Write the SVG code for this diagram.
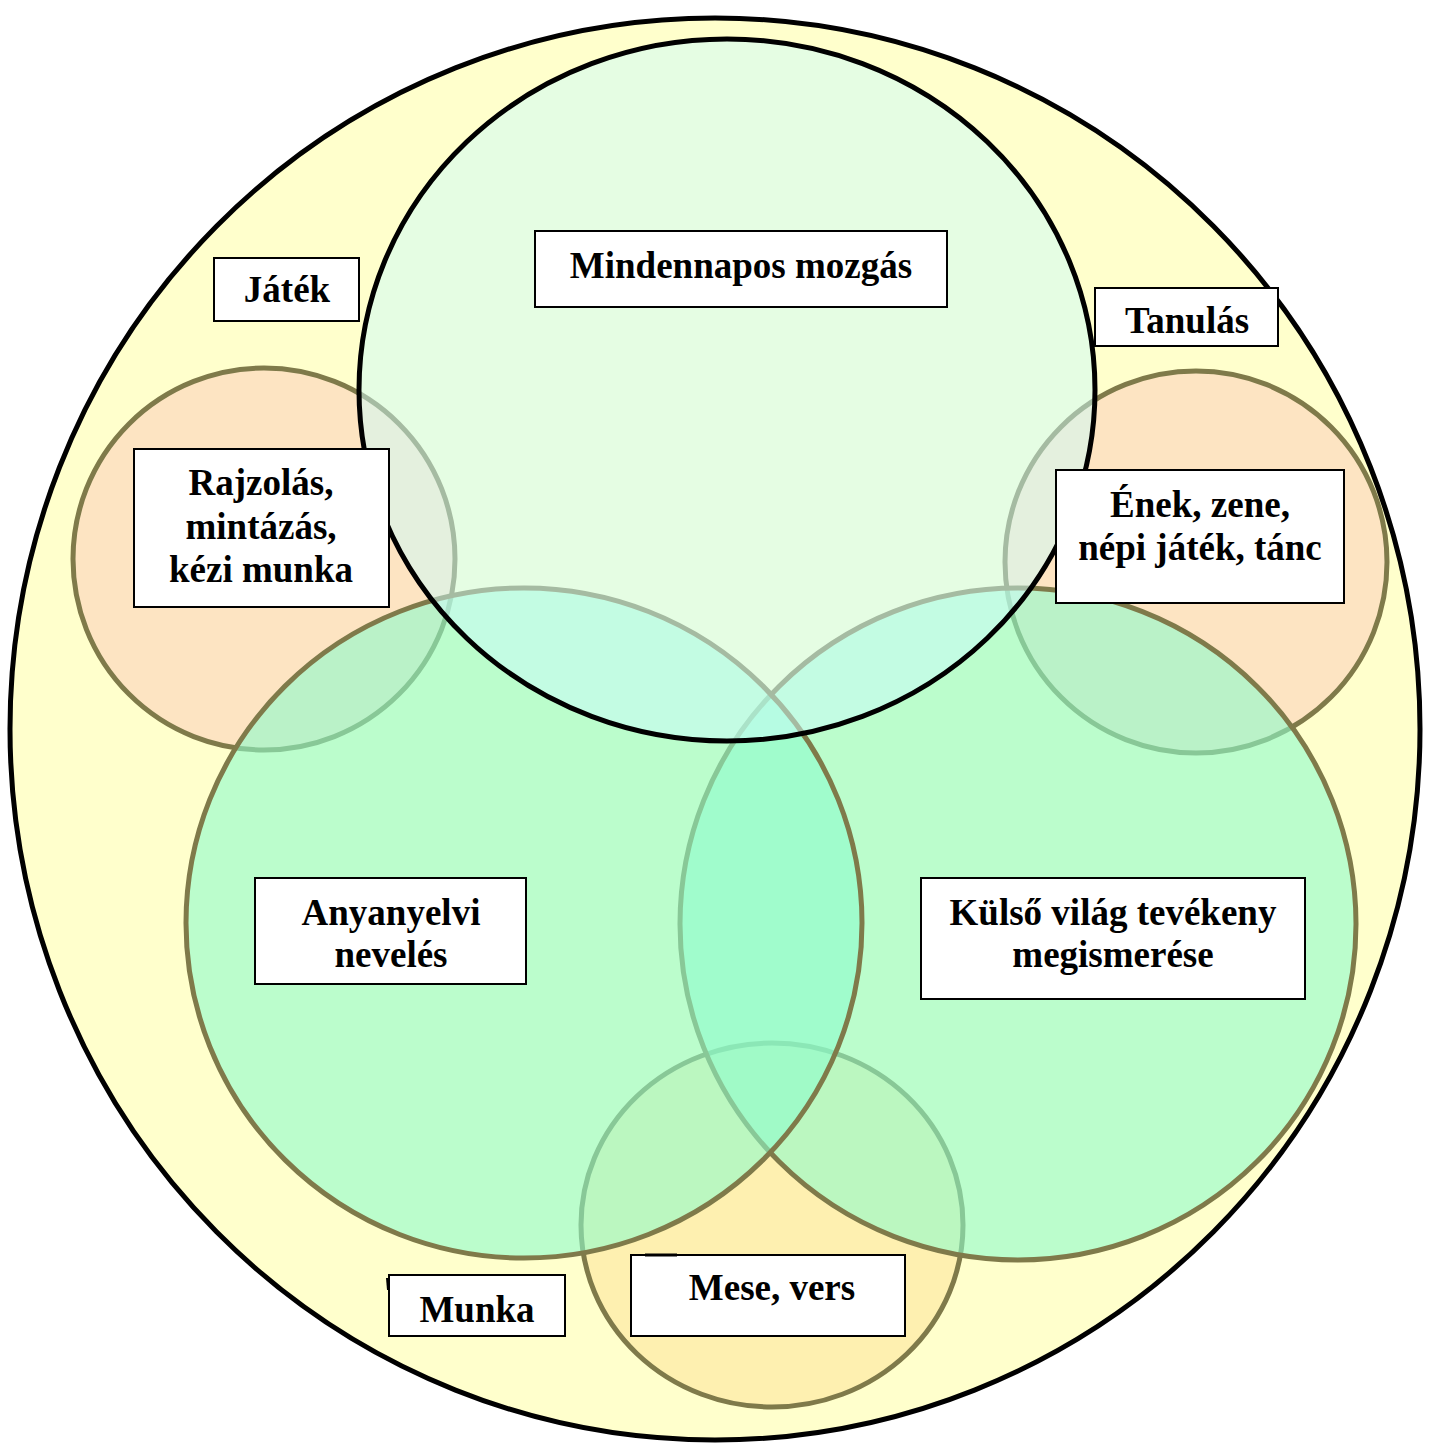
<svg xmlns="http://www.w3.org/2000/svg" width="1431" height="1443" viewBox="0 0 1431 1443">
<style>
.olive{stroke:#7f7a4a;stroke-width:5}
.lbl rect{fill:#ffffff;stroke:#000000;stroke-width:2}
.lbl text{font-family:"Liberation Serif","Times New Roman",serif;font-weight:bold;font-size:37px;fill:#000000;text-anchor:middle}
.tick{stroke:#000000;stroke-width:2;fill:none}
</style>
<rect x="0" y="0" width="1431" height="1443" fill="#ffffff"/>
<g id="outer">
<ellipse cx="715" cy="729" rx="705" ry="711" fill="#ffffcc" stroke="#000000" stroke-width="5"/>
</g>
<g id="circle-rajzolas">
<circle cx="264" cy="559" r="191" fill="#fde4c2" class="olive"/>
</g>
<g id="circle-enek">
<circle cx="1196" cy="562" r="191" fill="#fde4c2" class="olive"/>
</g>
<g id="circle-mese">
<ellipse cx="772" cy="1225" rx="191" ry="182" fill="#fef0b0" class="olive"/>
</g>
<g id="circle-kulso">
<ellipse cx="1018" cy="924" rx="338" ry="336" fill="#8efccc" fill-opacity="0.6" class="olive"/>
</g>
<g id="circle-anyanyelvi">
<ellipse cx="524" cy="923" rx="338" ry="335" fill="#8efccc" fill-opacity="0.6" class="olive"/>
</g>
<g id="circle-mozgas">
<ellipse cx="727" cy="390" rx="368" ry="351" fill="#cbfbfa" fill-opacity="0.5" stroke="#000000" stroke-width="5"/>
</g>
<g id="connectors"></g>
<g id="label-mozgas" class="lbl">
<rect x="535" y="231" width="412" height="76"/>
<text x="741" y="278">Mindennapos mozgás</text>
<line class="tick" x1="535" y1="292" x2="535" y2="305"/>
</g>
<g id="label-tanulas" class="lbl">
<rect x="1095" y="288" width="183" height="58"/>
<text x="1187" y="333">Tanulás</text>
</g>
<g id="label-jatek" class="lbl">
<rect x="214" y="258" width="145" height="63"/>
<text x="287" y="302">Játék</text>
</g>
<g id="label-rajzolas" class="lbl">
<rect x="134" y="449" width="255" height="158"/>
<text x="261" y="495">Rajzolás,</text>
<text x="261" y="539">mintázás,</text>
<text x="261" y="582">kézi munka</text>
</g>
<g id="label-enek" class="lbl">
<rect x="1056" y="470" width="288" height="133"/>
<text x="1200" y="517">Ének, zene,</text>
<text x="1200" y="560">népi játék, tánc</text>
<line class="tick" x1="1072" y1="470" x2="1104" y2="470"/>
</g>
<g id="label-anyanyelvi" class="lbl">
<rect x="255" y="878" width="271" height="106"/>
<text x="391" y="925">Anyanyelvi</text>
<text x="391" y="967">nevelés</text>
</g>
<g id="label-kulso" class="lbl">
<rect x="921" y="878" width="384" height="121"/>
<text x="1113" y="925">Külső világ tevékeny</text>
<text x="1113" y="967">megismerése</text>
</g>
<g id="label-munka" class="lbl">
<rect x="389" y="1275" width="176" height="61"/>
<text x="477" y="1322">Munka</text>
<line class="tick" x1="387" y1="1278" x2="388" y2="1290"/>
</g>
<g id="label-mese" class="lbl">
<rect x="631" y="1255" width="274" height="81"/>
<text x="772" y="1300">Mese, vers</text>
<line x1="645" y1="1255" x2="677" y2="1255" stroke="#000000" stroke-width="3"/>
</g>
</svg>
